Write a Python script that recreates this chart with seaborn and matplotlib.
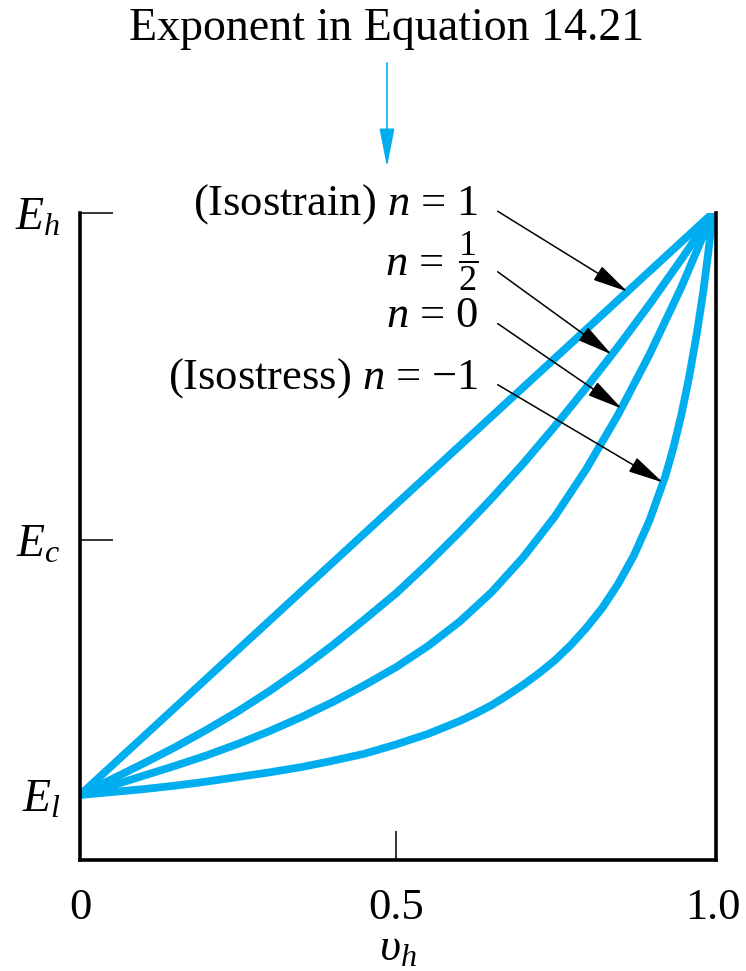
import matplotlib
matplotlib.use("Agg")
import matplotlib.pyplot as plt
import pandas as pd
import seaborn as sns

# Volume fraction of the high-modulus phase
vh = [0, .05, .10, .15, .20, .25, .30, .35, .40, .45, .50, .55, .60, .65, .70,
      .75, .80, .85, .90, .95, 1.0]
# finer sampling for the sharply bending isostress curve
vh_fine = [0, .05, .10, .15, .20, .25, .30, .35, .40, .45, .50, .55, .60, .625,
           .65, .675, .70, .725, .75, .775, .80, .825, .85, .875, .90, .925,
           .9375, .95, .9625, .975, .985, .9925, 1.0]

# Composite modulus on a relative scale (E_l -> 0, E_h -> 1)
e_isostrain = [0, .05, .10, .15, .20, .25, .30, .35, .40, .45, .50, .55, .60, .65,
               .70, .75, .80, .85, .90, .95, 1.0]
e_half = [0, .027, .054, .082, .112, .144, .179, .217, .258, .302, .347, .398, .452,
          .509, .569, .633, .700, .770, .843, .920, 1.0]
e_zero = [0, .016, .033, .050, .068, .088, .110, .134, .160, .189, .220, .256, .298,
          .348, .408, .478, .560, .653, .757, .872, 1.0]
e_isostress = [0, .005, .010, .016, .023, .031, .039, .048, .059, .071, .087, .105,
               .127, .140, .154, .171, .189, .209, .231, .257, .287, .321, .362,
               .411, .472, .548, .596, .652, .718, .795, .866, .930, 1.0]

exponents = ["1", "1/2", "0", "-1"]
curve_labels = ["(Isostrain) $n$ = 1", "$n$ =", "$n$ = 0",
                "(Isostress) $n$ = \u22121"]
label_right = [.629, .5735, .629, .629]
# where each pointer arrow touches its curve (v_h, relative modulus)
pointer_tips = [(.865, .865), (.840, .757), (.856, .664), (.921, .537)]
label_y = [.997, .893, .804, .699]

y_ticks = [0, .438, 1.0]
y_tick_labels = [r"$E_l$", r"$E_c$", r"$E_h$"]
x_ticks = [0, .5, 1.0]
x_tick_labels = ["0", "0.5", "1.0"]

CYAN = "#00AEEF"

series = [(vh, e_isostrain), (vh, e_half), (vh, e_zero), (vh_fine, e_isostress)]
frames = []
for n, (xs, ys) in zip(exponents, series):
    frames.append(pd.DataFrame({"vh": xs, "E": ys, "n": n}))
df = pd.concat(frames, ignore_index=True)

sns.set_theme(style="white")
plt.rcParams["font.family"] = ["Liberation Serif", "DejaVu Serif"]
plt.rcParams["mathtext.fontset"] = "custom"
plt.rcParams["mathtext.rm"] = "Liberation Serif"
plt.rcParams["mathtext.it"] = "Liberation Serif:italic"
plt.rcParams["mathtext.bf"] = "Liberation Serif:bold"

FS = 32

fig = plt.figure(figsize=(7.46, 9.71), dpi=100)
fig.patch.set_facecolor("white")
ax = fig.add_axes([80 / 746, 111 / 971, 636 / 746, 647 / 971])

sns.lineplot(data=df, x="vh", y="E", hue="n", hue_order=exponents,
             palette=[CYAN] * 4, linewidth=5.6, legend=False, ax=ax,
             solid_capstyle="butt", solid_joinstyle="round", estimator=None)

ax.set_xlim(0, 1.005)
ax.set_ylim(-0.1117, 1.0)

for side in ["left", "bottom", "right"]:
    ax.spines[side].set_visible(True)
    ax.spines[side].set_color("black")
    ax.spines[side].set_linewidth(2.6)
ax.spines["top"].set_visible(False)

ax.set_yticks(y_ticks)
ax.set_yticklabels(y_tick_labels)
ax.set_xticks(x_ticks)
ax.set_xticklabels(x_tick_labels)
ax.tick_params(axis="y", direction="in", length=24, width=1.1, pad=14,
               labelsize=33, colors="black", left=True, right=False)
ax.tick_params(axis="x", direction="in", length=21, width=1.1, pad=20,
               labelsize=FS, colors="black", bottom=True, top=False)
# only E_h, E_c and the mid-range fraction carry tick marks
ax.yaxis.get_major_ticks()[0].tick1line.set_visible(False)
ax.xaxis.get_major_ticks()[0].tick1line.set_visible(False)
ax.xaxis.get_major_ticks()[2].tick1line.set_visible(False)

ax.set_xlabel(r"$\upsilon_h$", fontsize=33, labelpad=0, color="black")
ax.set_ylabel("")
ax.grid(False)

for text, y, tip, xr in zip(curve_labels, label_y, pointer_tips, label_right):
    ax.text(xr, y, text, ha="right", va="baseline", fontsize=FS,
            color="black", clip_on=False)
    ax.annotate("", xy=tip, xytext=(.660, y + .006),
                arrowprops=dict(arrowstyle="-|>,head_length=22,head_width=5",
                                mutation_scale=1, color="black", lw=1.1,
                                shrinkA=0, shrinkB=0),
                annotation_clip=False)
# the one-half exponent as a stacked fraction
ax.text(.629, label_y[1] + .003, r"$\dfrac{1}{2}$", ha="right", va="baseline",
        fontsize=26, color="black", clip_on=False)

fig.text(387 / 746, 1 - 40 / 971, "Exponent in Equation 14.21", ha="center",
         va="baseline", fontsize=33, color="black")
ax.annotate("", xy=(387 / 746, 1 - 167 / 971), xytext=(387 / 746, 1 - 63 / 971),
            xycoords="figure fraction", textcoords="figure fraction",
            arrowprops=dict(arrowstyle="-|>,head_length=24,head_width=4.7",
                            mutation_scale=1, color=CYAN, lw=1.2,
                            shrinkA=0, shrinkB=0),
            annotation_clip=False)

fig.savefig("out.png", dpi=100, facecolor="white")
